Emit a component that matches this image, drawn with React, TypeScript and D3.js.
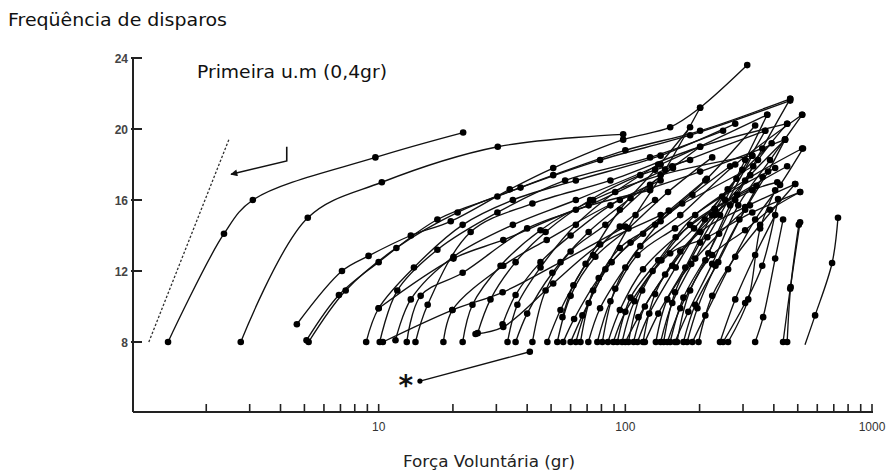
import React from "react";
import * as d3 from "d3";

type Pt = [number, number];

// axis ticks
const yTickValues = [8, 12, 16, 20, 24];
const xMajorTicks = [10, 100, 1000];
const xMinorTicks = [2, 3, 4, 5, 6, 7, 8, 9, 20, 30, 40, 50, 60, 70, 80, 90, 200, 300, 400, 500, 600, 700, 800, 900];

// [force (gr), firing rate (Hz)]
const earlyUnits: Pt[][] = [
  [[1.4, 8], [2.36, 14.1], [3.09, 16], [9.7, 18.4], [22, 19.8]],
  [[2.76, 8], [5.16, 15], [10.3, 17], [30.4, 19], [98, 19.7]],
];

const fanUnits: Pt[][] = [
  [[4.66, 9], [7.1, 12], [9.1, 12.85], [13.5, 14], [19.6, 14.8], [34, 16.6], [51, 17.8], [98, 19.4], [152, 20.1], [201, 21.2], [312, 23.6]],
  [[5.1, 8.1], [6.9, 10.65], [10, 12.5], [17.3, 14.9], [30.3, 16.2], [51, 17.4], [100, 18.8], [201, 19.9], [466, 21.7]],
  [[5.2, 8], [7.35, 10.9], [11.8, 13.3], [20.9, 15.3], [37.6, 16.7], [79, 18.25], [183, 19.65], [466, 21.6]],
  [[8.9, 8], [10, 9.9], [13.9, 12.2], [21.9, 14.6], [35, 16], [63, 17.1], [139, 18.5], [279, 20.3]],
  [[10.1, 8], [11.9, 10.9], [17.3, 13.2], [30.3, 15.3], [57, 17.1], [126, 18.4], [249, 19.9]],
  [[11.7, 8.1], [13.5, 10.4], [20.1, 12.8], [35, 14.6], [63, 16], [139, 18], [376, 20.8]],
  [[13, 8], [14.8, 10.6], [21.9, 11.9], [40, 14.4], [71, 15.7], [155, 17.9], [369, 19.9]],
  [[14.1, 8], [15.8, 10.1], [23.6, 14.2], [42, 15.8], [87, 17.1], [201, 19], [453, 20.3]],
  [[18.3, 8], [19.9, 9.8], [32, 12.3], [48, 13.75], [95, 16], [201, 17.6], [444, 19.4]],
  [[21.9, 8], [24, 10.1], [31.2, 12.3], [45.3, 14.3], [74, 16], [139, 17.4], [327, 18.5]],
  [[24.7, 8.45], [32, 8.85], [51, 11.3], [79, 13.5], [139, 15.15], [330, 17.9]],
];

const crossUnits: Pt[][] = [
  [[10.4, 8], [19.9, 9.8], [31.8, 10.8], [54.6, 12.5], [100, 14.5]],
  [[10, 9.9], [20.1, 12.7], [32, 13.75], [63, 15.45], [126, 16.55]],
  [[25.2, 8.5], [28.4, 10.4], [35.9, 12.5], [47.5, 14.2], [72, 16], [115, 17.4], [183, 18.25]],
  [[31.8, 9], [35.9, 10.65], [45.3, 12.5], [60, 14], [87, 15.7], [139, 17.1]],
  [[55.6, 9.4], [61.6, 11.2], [74, 12.9], [95, 14.5], [132, 16]],
];

const middleUnits: Pt[][] = [
  [[33.3, 8], [36.5, 10.1], [45.3, 12.2], [63, 14.6], [91, 16.45], [136, 18]],
  [[35.9, 8], [40, 9.6], [50.6, 11.9], [71, 14.2], [105, 16.1], [156, 17.8]],
  [[42, 8], [47.5, 10.9], [60, 13.1], [83, 14.6], [126, 16.85], [201, 19]],
  [[48.3, 8], [54.6, 9.8], [69, 12.4], [95, 15.45], [132, 17.7], [183, 20.1]],
  [[53, 8], [60, 10.6], [75.6, 12.8], [103, 14.4], [149, 16.45], [225, 18.4]],
  [[56, 8], [62, 9.3], [78, 11.6], [105, 13.6], [150, 15.4], [214, 17.2]],
  [[60, 8], [67, 9.5], [83, 12.1], [110, 15.15], [145, 17.7], [201, 21.2]],
  [[63, 8], [71, 10.2], [88, 12.5], [118, 14.1], [170, 15.8]],
  [[65.8, 8], [74, 10.9], [95, 13.3], [132, 14.6], [187, 16.3], [266, 17.9]],
  [[70.8, 8], [79, 9.9], [100, 12.2], [139, 14.8], [211, 17.1], [336, 20.2]],
  [[77, 8], [87, 10.3], [112, 12.9], [159, 14.4], [247, 16.2], [405, 17.8]],
  [[80.7, 8], [91, 11], [115, 13.4], [167, 15.15], [279, 18], [521, 20.8]],
  [[85, 8], [95, 9.8], [118, 12.1], [160, 13.9], [230, 15.5], [340, 16.8]],
  [[89.4, 8], [100, 9.7], [129, 12], [183, 14.6], [284, 16.3], [453, 17.9]],
  [[92.8, 8], [105, 10.5], [136, 12.6], [192, 15.15], [306, 17.1], [521, 18.9]],
  [[97, 8], [109, 10.3], [140, 12.6], [190, 14.4], [260, 16.6]],
  [[100, 8], [113, 9.4], [145, 11.8], [201, 14.2], [306, 15.6], [488, 16.9]],
  [[103, 8], [117, 10.9], [152, 13], [215, 13.9], [327, 15.3], [511, 16.45]],
  [[108, 8], [120, 10], [155, 12.3], [225, 15.15], [327, 16.55], [413, 17]],
  [[112, 8], [125, 9.6], [160, 12.2], [210, 14.9], [282, 17.2], [392, 19.2]],
  [[118, 8], [132, 10.7], [167, 13.1], [231, 15.15], [321, 17.4], [444, 19.4]],
  [[120, 8], [136, 9.6], [175, 12.2], [231, 15.45], [298, 17.7], [369, 19.9]],
  [[133, 8], [148, 10.4], [185, 12.4], [240, 14.1], [320, 15.7]],
  [[139, 8], [155, 10.2], [192, 12.7], [242, 15.15], [327, 18.5]],
  [[143, 8], [159, 10.8], [201, 13.6], [254, 16], [306, 18.25], [376, 20.8]],
  [[148, 8], [167, 9.9], [211, 12.6], [266, 15.7], [345, 18.25], [453, 20.3]],
  [[152, 8], [172, 10.5], [217, 13], [279, 16], [359, 18.9], [466, 21.7]],
  [[159, 8], [180, 9.7], [225, 12.4], [287, 15.7], [386, 18.25], [521, 20.8]],
  [[162, 8], [183, 10.9], [225, 12.9], [306, 14.3], [386, 15.45], [511, 16.45]],
  [[172, 8], [192, 10.1], [238, 12.5], [306, 15.45], [379, 17.6], [444, 19.4]],
  [[178, 8], [196, 9.9], [232, 12.3], [290, 14.9], [360, 17.3]],
  [[187, 8], [211, 9.5], [261, 12.1], [336, 14.9], [424, 16.85], [525, 18.9]],
  [[198, 8], [225, 10.6], [279, 12.8], [352, 14.6], [488, 16.9]],
];

const lateUnits: Pt[][] = [
  [[242, 8], [279, 10.4], [336, 12.9], [405, 15.15]],
  [[249, 8], [306, 10.2], [359, 12.3], [416, 16.05]],
  [[261, 8], [315, 10.4], [352, 14.4], [405, 16.55]],
  [[336, 8], [362, 9.4], [405, 12.7], [436, 14.9]],
  [[436, 8], [466, 11], [511, 14.75]],
  [[453, 8], [468, 11.1], [505, 14.6]],
];

// last unit: its lowest point has no dot
const lastUnit: Pt[] = [[535, 7.85], [588, 9.5], [689, 12.45], [728, 15]];

const starUnit: Pt[] = [[14.7, 5.8], [41, 7.45]];
const dashedGuide: Pt[] = [[1.17, 8], [2.47, 19.4]];
const arrowPath: Pt[] = [[4.24, 19], [4.24, 18.2], [2.52, 17.45]];

const W = 893;
const H = 474;

export default function App() {
  const x = d3.scaleLog().domain([1, 1000]).range([132, 872]);
  const y = d3.scaleLinear().domain([4, 24]).range([413, 58]);
  const axisY = y(4) - 1;
  const axisX = x(1) + 1;

  const line = d3
    .line<Pt>()
    .x((d) => x(d[0]))
    .y((d) => y(d[1]))
    .curve(d3.curveCatmullRom.alpha(0.5));
  const straight = d3
    .line<Pt>()
    .x((d) => x(d[0]))
    .y((d) => y(d[1]));

  const dotted: Pt[][] = [...earlyUnits, ...fanUnits, ...crossUnits, ...middleUnits, ...lateUnits];

  return (
    <svg
      width={W}
      height={H}
      viewBox={`0 0 ${W} ${H}`}
      style={{ position: "absolute", left: 0, top: 0, background: "#fff" }}
    >
      <defs>
        <marker id="ah" viewBox="0 0 10 10" refX="9" refY="5" markerWidth="10" markerHeight="7" orient="auto" markerUnits="userSpaceOnUse">
          <path d="M0,0 L10,5 L0,10 z" fill="#111" />
        </marker>
      </defs>
      <rect x={0} y={0} width={W} height={H} fill="#fff" />

      {/* title */}
      <text x={8} y={26} fontFamily="DejaVu Sans, sans-serif" fontSize={17} fill="#111" textLength={219} lengthAdjust="spacingAndGlyphs">
        Freqüência de disparos
      </text>
      <text x={197} y={78} fontFamily="DejaVu Sans, sans-serif" fontSize={18} fill="#111" textLength={190} lengthAdjust="spacingAndGlyphs">
        Primeira u.m (0,4gr)
      </text>

      {/* axes */}
      <line x1={axisX} x2={axisX} y1={y(24) - 1} y2={axisY} stroke="#222" strokeWidth={2} />
      <line x1={axisX} x2={x(1000) + 1} y1={axisY} y2={axisY} stroke="#222" strokeWidth={2} />
      {yTickValues.map((v) => (
        <g key={"yt" + v}>
          <line x1={axisX - 2} x2={axisX + 9} y1={y(v)} y2={y(v)} stroke="#222" strokeWidth={2} />
          <text x={axisX - 5} y={y(v) + 4.5} textAnchor="end" fontFamily="Liberation Sans, Arial, sans-serif" fontWeight="bold" fontSize={12} fill="#444">
            {v}
          </text>
        </g>
      ))}
      {[...xMinorTicks, ...xMajorTicks].map((v) => (
        <line key={"xt" + v} x1={x(v)} x2={x(v)} y1={axisY} y2={axisY - 8} stroke="#222" strokeWidth={1.6} />
      ))}
      {xMajorTicks.map((v) => (
        <text key={"xl" + v} x={x(v)} y={431} textAnchor="middle" fontFamily="Liberation Sans, Arial, sans-serif" fontSize={12} fill="#333">
          {v}
        </text>
      ))}
      <text x={489} y={467} textAnchor="middle" fontFamily="DejaVu Sans, sans-serif" fontSize={15} fill="#222" textLength={172} lengthAdjust="spacingAndGlyphs">
        Força Voluntária (gr)
      </text>

      {/* dashed guide and arrow */}
      <path d={straight(dashedGuide) || ""} fill="none" stroke="#333" strokeWidth={1.3} strokeDasharray="2.5,1.8" />
      <path d={straight(arrowPath) || ""} fill="none" stroke="#111" strokeWidth={1.6} markerEnd="url(#ah)" />

      {/* motor unit curves */}
      <g fill="none" stroke="#111" strokeWidth={1.35}>
        {dotted.map((c, i) => (
          <path key={"c" + i} d={line(c) || ""} />
        ))}
        <path d={line(lastUnit) || ""} />
        <path d={straight(starUnit) || ""} />
      </g>
      <g fill="#000">
        {dotted.map((c, i) =>
          c.map((p, j) => <circle key={"d" + i + "-" + j} cx={x(p[0])} cy={y(p[1])} r={3.3} />)
        )}
        {lastUnit.slice(1).map((p, j) => (
          <circle key={"l" + j} cx={x(p[0])} cy={y(p[1])} r={3.3} />
        ))}
        <circle cx={x(starUnit[0][0])} cy={y(starUnit[0][1])} r={2.6} />
        <circle cx={x(starUnit[1][0])} cy={y(starUnit[1][1])} r={3.3} />
      </g>
      <text x={x(starUnit[0][0]) - 14} y={y(starUnit[0][1]) + 14} textAnchor="middle" fontFamily="DejaVu Sans, sans-serif" fontWeight="bold" fontSize={28} fill="#111">
        *
      </text>
    </svg>
  );
}
